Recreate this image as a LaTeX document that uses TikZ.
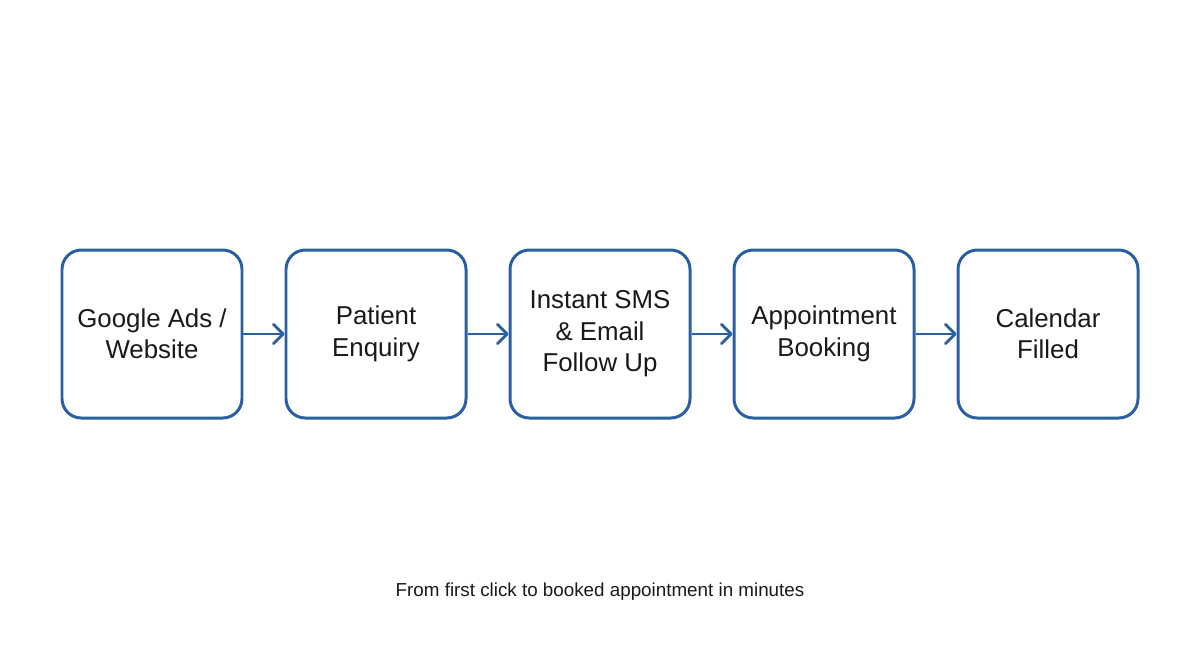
\documentclass[tikz,border=0pt]{standalone}
\usepackage{fontspec}
\setmainfont{Liberation Sans}
\usepackage{xcolor}
\usepackage{tikz}
\usetikzlibrary{positioning,arrows.meta}
\definecolor{flowblue}{RGB}{42,96,162}
\definecolor{inktext}{RGB}{25,25,25}

\begin{document}
\begin{tikzpicture}[
  every node/.style={font=\fontsize{14.7}{17.9}\selectfont\color{inktext}},
  stage/.style={rectangle, draw=flowblue, line width=1.7pt, fill=white, rounded corners=11pt,
              minimum width=3.6cm, minimum height=3.36cm, align=center},
  flow/.style={draw=flowblue, line width=1.6pt,
              -{Straight Barb[length=5.5pt,width=11pt,line cap=round,line join=round]}}
]
  \useasboundingbox (0,0) rectangle (24,-13.38);
  \node[stage] (ads)     at (3.04,-6.68)  {Google Ads /\\Website};
  \node[stage] (enquiry) at (7.52,-6.68)  {Patient\\Enquiry};
  \node[stage] (follow)  at (12,-6.68)    {Instant SMS\\\& Email\\Follow Up};
  \node[stage] (booking) at (16.48,-6.68) {Appointment\\Booking};
  \node[stage] (filled)  at (20.96,-6.68) {Calendar\\Filled};
  \draw[flow] (ads) -- (enquiry);
  \draw[flow] (enquiry) -- (follow);
  \draw[flow] (follow) -- (booking);
  \draw[flow] (booking) -- (filled);
  \node[font=\fontsize{10.7}{13}\selectfont\color{inktext}] (caption) at (12,-11.84)
    {From first click to booked appointment in minutes};
\end{tikzpicture}
\end{document}
